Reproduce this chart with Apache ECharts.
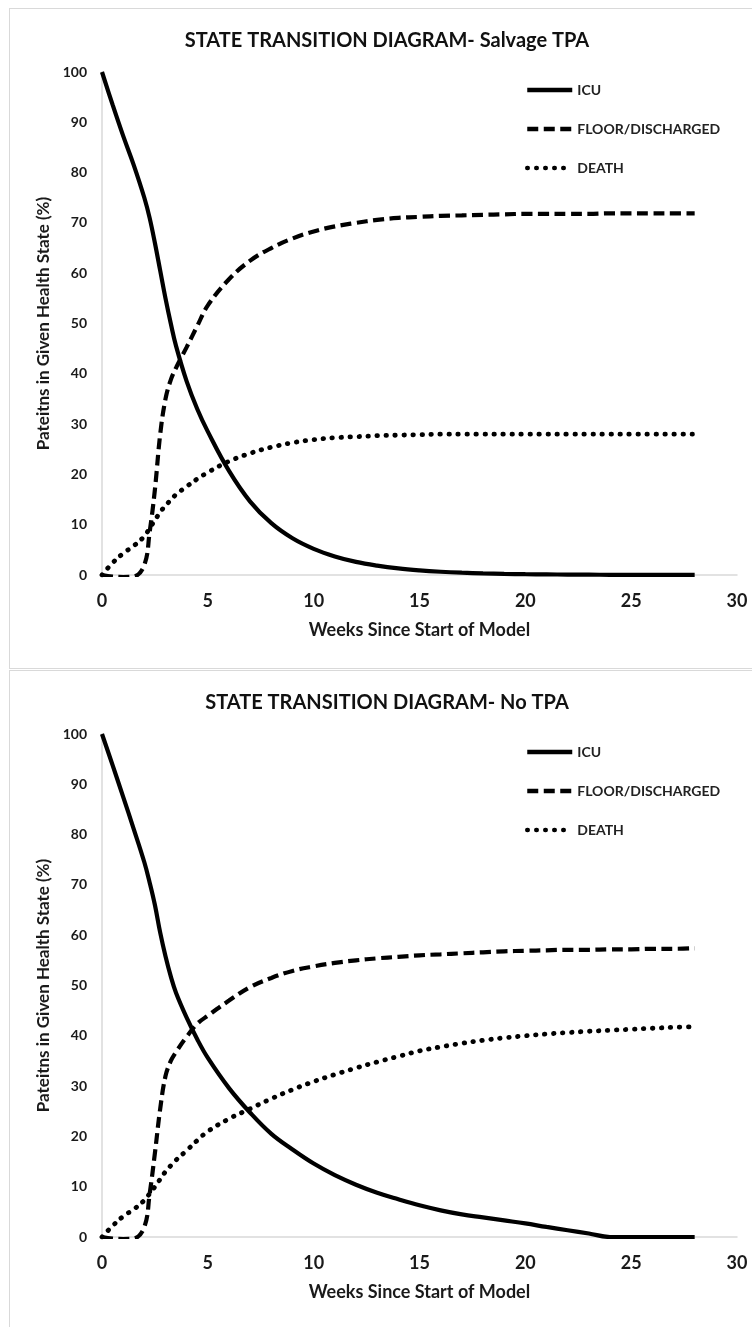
<!DOCTYPE html>
<html>
<head>
<meta charset="utf-8">
<script src="https://cdn.jsdelivr.net/npm/echarts@6/dist/echarts.min.js"></script>
<style>
  html, body { margin: 0; padding: 0; background: #fff; width: 752px; height: 1327px; overflow: hidden; }
  .panel { position: absolute; left: 9px; width: 760px; border: 1px solid #d9d9d9; box-sizing: border-box; background: #fff; }
  #p1 { top: 8px; height: 661px; }
  #p2 { top: 670px; height: 700px; }
  .chart { position: absolute; left: 0; top: 0; width: 754px; height: 100%; }
</style>
</head>
<body>
<div class="panel" id="p1"><div class="chart" id="c1"></div></div>
<div class="panel" id="p2"><div class="chart" id="c2"></div></div>
<script>
// ---- data ----
const weeks = [0, 0.5, 1, 1.5, 2, 2.25, 2.5, 2.75, 3, 3.25, 3.5, 4, 4.5, 5, 6, 7, 8, 9, 10, 11, 12, 13, 14, 15, 16, 17, 18, 19, 20, 21, 22, 23, 24, 25, 26, 27, 28];

const seriesNames = ["ICU", "FLOOR/DISCHARGED", "DEATH"];
const titleSalvage = "STATE TRANSITION DIAGRAM- Salvage TPA";
const titleNoTpa = "STATE TRANSITION DIAGRAM- No TPA";
const xAxisTitle = "Weeks Since Start of Model";
const yAxisTitle = "Pateitns in Given Health State (%)";

const icuSalvage   = [100, 93.5, 87.3, 81.5, 75, 71, 66, 60.5, 55, 50, 45.5, 38.5, 33, 28.5, 20.7, 14.6, 10.3, 7.3, 5.2, 3.7, 2.6, 1.85, 1.3, 0.92, 0.65, 0.46, 0.33, 0.23, 0.16, 0.12, 0.08, 0.06, 0.04, 0.03, 0.02, 0.01, 0.01];
const floorSalvage = [0, -0.3, -0.4, -0.3, 2, 8.5, 17, 28, 35, 38.8, 41.2, 45.3, 49.5, 53.6, 58.8, 62.5, 65, 66.9, 68.3, 69.3, 70, 70.6, 71, 71.2, 71.4, 71.5, 71.6, 71.7, 71.8, 71.8, 71.8, 71.8, 71.9, 71.9, 71.9, 71.9, 71.9];
const deathSalvage = [0, 2.4, 4.3, 5.8, 7.7, 9.3, 10.9, 12.5, 13.8, 14.9, 16, 17.6, 19.1, 20.4, 22.6, 24.2, 25.4, 26.3, 26.9, 27.3, 27.5, 27.7, 27.8, 27.9, 28, 28, 28, 28, 28, 28, 28, 28, 28, 28, 28, 28, 28];

const icuNoTpa   = [100, 93.8, 87.5, 81.1, 74.5, 70.5, 66, 60.5, 55.8, 51.8, 48.5, 43.6, 39.3, 35.6, 29.6, 24.7, 20.5, 17.4, 14.6, 12.3, 10.4, 8.8, 7.5, 6.3, 5.3, 4.5, 3.9, 3.3, 2.7, 2, 1.35, 0.7, 0, 0, 0, 0, 0];
const floorNoTpa = [0, -0.3, -0.4, -0.3, 2, 8.5, 16.7, 25.5, 32, 35, 36.8, 39.8, 42.4, 44, 47, 49.7, 51.5, 52.9, 53.8, 54.5, 55, 55.4, 55.7, 56, 56.2, 56.4, 56.6, 56.8, 56.9, 57, 57.1, 57.1, 57.2, 57.2, 57.3, 57.3, 57.4];
const deathNoTpa = [0, 2.2, 4.1, 5.5, 7.3, 8.6, 10, 11.5, 13, 14.2, 15.3, 17.2, 19.2, 21, 23.5, 25.5, 27.5, 29.3, 30.9, 32.3, 33.6, 34.8, 35.9, 37, 37.8, 38.5, 39.1, 39.6, 40, 40.35, 40.65, 40.9, 41.1, 41.3, 41.5, 41.7, 41.8];

// ---- chart building ----
const FONT = "Lato, 'Open Sans', sans-serif";
const lineStyles = [
  { color: '#000', width: 4.2, type: 'solid' },
  { color: '#000', width: 4.2, type: [11, 5.5], cap: 'butt' },
  { color: '#000', width: 4.8, type: [0.5, 8.5], cap: 'round' }
];

function buildOption(title, icu, floor, death, gridTop) {
  const arrays = [icu, floor, death];
  return {
    animation: false,
    title: {
      text: title, left: 'center', top: 17,
      textStyle: { fontFamily: FONT, fontWeight: 'bold', fontSize: 20, color: '#111' }
    },
    legend: {
      orient: 'vertical', left: 515, top: gridTop + 11, itemGap: 25, padding: 0,
      itemWidth: 45, itemHeight: 14,
      data: seriesNames,
      itemStyle: { color: 'rgba(0,0,0,0)', borderWidth: 0, opacity: 0 },
      lineStyle: { width: 4.5 },
      textStyle: { fontFamily: FONT, fontWeight: 'bold', fontSize: 14, color: '#222' }
    },
    grid: { left: 92, top: gridTop, width: 635, height: 503 },
    xAxis: {
      type: 'value', min: 0, max: 30, interval: 5,
      name: xAxisTitle, nameLocation: 'middle', nameGap: 46,
      nameTextStyle: { fontFamily: FONT, fontWeight: 'bold', fontSize: 18, color: '#1a1a1a' },
      axisLine: { show: true, lineStyle: { color: '#d9d9d9', width: 1.5 } },
      axisTick: { show: false }, splitLine: { show: false },
      axisLabel: { margin: 17, fontFamily: FONT, fontWeight: 'bold', fontSize: 18, color: '#1a1a1a' }
    },
    yAxis: {
      type: 'value', min: 0, max: 100, interval: 10,
      name: yAxisTitle, nameLocation: 'middle', nameGap: 45, nameRotate: 90,
      nameTextStyle: { fontFamily: FONT, fontWeight: 'bold', fontSize: 17, color: '#1a1a1a' },
      axisLine: { show: true, lineStyle: { color: '#d9d9d9', width: 1.5 } },
      axisTick: { show: false }, splitLine: { show: false },
      axisLabel: { margin: 15, fontFamily: FONT, fontWeight: 'bold', fontSize: 14, color: '#1a1a1a' }
    },
    series: seriesNames.map((name, k) => ({
      name: name, type: 'line', smooth: 0.4, symbol: 'none', showSymbol: false,
      lineStyle: lineStyles[k], itemStyle: { color: '#000' },
      z: 3 - k,
      data: weeks.map((w, i) => [w, arrays[k][i]])
    }))
  };
}

const c1 = echarts.init(document.getElementById('c1'), null, { renderer: 'canvas' });
c1.setOption(buildOption(titleSalvage, icuSalvage, floorSalvage, deathSalvage, 63));
const c2 = echarts.init(document.getElementById('c2'), null, { renderer: 'canvas' });
c2.setOption(buildOption(titleNoTpa, icuNoTpa, floorNoTpa, deathNoTpa, 63));
</script>
</body>
</html>
